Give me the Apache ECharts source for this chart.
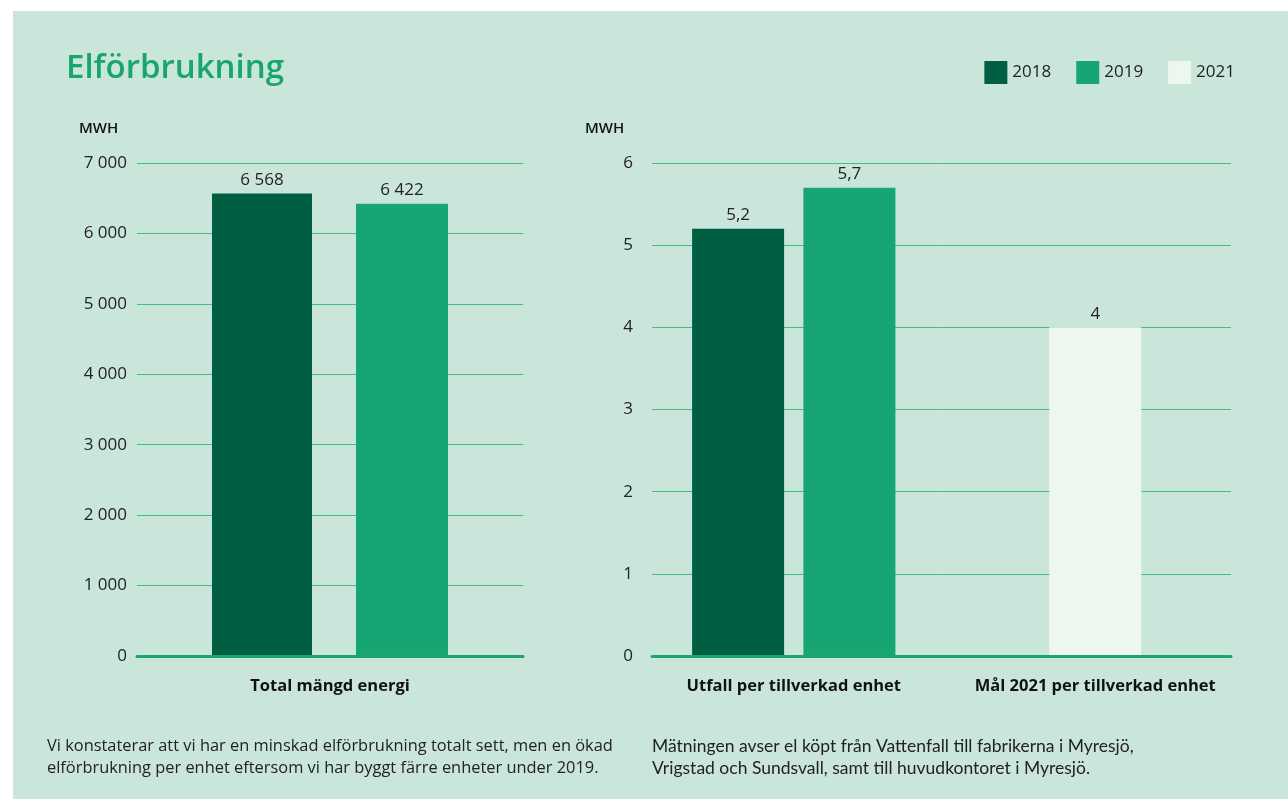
<!DOCTYPE html>
<html>
<head>
<meta charset="utf-8">
<script src="https://cdn.jsdelivr.net/npm/echarts@6/dist/echarts.min.js"></script>
<style>
  html, body { margin: 0; padding: 0; background: #ffffff; }
  #bg { position: absolute; left: 13px; top: 11px; width: 1275px; height: 788px; background: #cae6da; }
  #chart { position: absolute; left: 0; top: 0; width: 1288px; height: 799px; }
</style>
</head>
<body>
<div id="bg"></div>
<div id="chart"></div>
<script>
// data
var leftCategories = ['Total mängd energi'];
var rightCategories = ['Utfall per tillverkad enhet', 'Mål 2021 per tillverkad enhet'];
var total2018 = [6568];
var total2019 = [6422];
var unit2018 = [5.2, '-'];
var unit2019 = [5.7, '-'];
var unit2021 = ['-', 4];
var leftTicks = { min: 0, max: 7000, interval: 1000 };
var rightTicks = { min: 0, max: 6, interval: 1 };

var FONT = '"Open Sans", Lato, sans-serif';
var C2018 = '#005f43', C2019 = '#17a673', C2021 = '#edf7f0';
var gridLine = '#3fbd8b', zeroLine = '#1aa572', txt = '#222222';

function thousands(v) {
	return String(v).replace(/\B(?=(\d{3})+(?!\d))/g, ' ');
}
function decimal(v) {
	return String(v).replace('.', ',');
}

var chart = echarts.init(document.getElementById('chart'));

var valueLabel = function (fmt) {
	return {
		show : true,
		position : 'top',
		distance : 5,
		fontFamily : FONT,
		fontSize : 17,
		color : txt,
		formatter : function (p) { return fmt(p.value); }
	};
};

chart.setOption({
	textStyle : { fontFamily : FONT },
	animation : false,
	title : [ {
		text : 'Elförbrukning',
		left : 66, top : 52, padding : 0,
		textStyle : { fontFamily : FONT, fontSize : 33, fontWeight : 600, color : '#17a572' }
	}, {
		text : 'MWH',
		left : 79, top : 121, padding : 0,
		textStyle : { fontFamily : FONT, fontSize : 15, fontWeight : 600, color : '#111' }
	}, {
		text : 'MWH',
		left : 585, top : 121, padding : 0,
		textStyle : { fontFamily : FONT, fontSize : 15, fontWeight : 600, color : '#111' }
	}, {
		text : 'Vi konstaterar att vi har en minskad elförbrukning totalt sett, men en ökad\nelförbrukning per enhet eftersom vi har byggt färre enheter under 2019.',
		left : 47, top : 735, padding : 0,
		textStyle : { fontFamily : FONT, fontSize : 16.4, fontWeight : 'normal', color : txt, lineHeight : 22 }
	}, {
		text : 'Mätningen avser el köpt från Vattenfall till fabrikerna i Myresjö,\nVrigstad och Sundsvall, samt till huvudkontoret i Myresjö.',
		left : 652, top : 735, padding : 0,
		textStyle : { fontFamily : 'Lato, sans-serif', fontSize : 17.5, fontWeight : 'normal', color : txt, lineHeight : 22 }
	} ],
	legend : {
		right : 48, top : 56,
		itemWidth : 23, itemHeight : 23, itemGap : 25,
		icon : 'rect',
		data : [ '2018', '2019', '2021' ],
		textStyle : { fontFamily : FONT, fontSize : 17, color : txt }
	},
	grid : [
		{ left : 137, right : 765, top : 163, bottom : 143 },
		{ left : 652, right : 57, top : 163, bottom : 143 },
		{ left : 643, right : 42, top : 163, bottom : 143 }
	],
	xAxis : [ {
		gridIndex : 0, type : 'category', data : leftCategories, z : 5,
		axisLine : { lineStyle : { color : zeroLine, width : 3 } },
		axisTick : { show : false },
		axisLabel : { margin : 22, fontFamily : FONT, fontSize : 16.5, fontWeight : 'bold', color : '#111' }
	}, {
		gridIndex : 1, type : 'category', data : rightCategories, z : 5,
		axisLine : { lineStyle : { color : zeroLine, width : 3 } },
		axisTick : { show : false },
		axisLabel : { show : false }
	}, {
		gridIndex : 2, type : 'category', data : rightCategories,
		axisLine : { show : false },
		axisTick : { show : false },
		axisLabel : { interval : 0, hideOverlap : false, margin : 22, fontFamily : FONT, fontSize : 16.5, fontWeight : 'bold', color : '#111' }
	}, {
		gridIndex : 2, type : 'category', data : rightCategories, show : false
	} ],
	yAxis : [ {
		gridIndex : 0, type : 'value',
		min : leftTicks.min, max : leftTicks.max, interval : leftTicks.interval,
		axisLine : { show : false }, axisTick : { show : false },
		axisLabel : { margin : 10, fontFamily : FONT, fontSize : 17, color : txt, formatter : thousands },
		splitLine : { lineStyle : { color : gridLine, width : 1 } }
	}, {
		gridIndex : 1, type : 'value',
		min : rightTicks.min, max : rightTicks.max, interval : rightTicks.interval,
		axisLine : { show : false }, axisTick : { show : false },
		axisLabel : { margin : 19, fontFamily : FONT, fontSize : 17, color : txt, formatter : decimal },
		splitLine : { lineStyle : { color : gridLine, width : 1 } }
	}, {
		gridIndex : 2, type : 'value',
		min : rightTicks.min, max : rightTicks.max, show : false,
		splitLine : { show : false }
	} ],
	series : [ {
		name : '2018', type : 'bar', xAxisIndex : 0, yAxisIndex : 0,
		data : total2018, barWidth : 100, barGap : '44%',
		itemStyle : { color : C2018 }, label : valueLabel(thousands)
	}, {
		name : '2019', type : 'bar', xAxisIndex : 0, yAxisIndex : 0,
		data : total2019, barWidth : 92,
		itemStyle : { color : C2019 }, label : valueLabel(thousands)
	}, {
		name : '2018', type : 'bar', xAxisIndex : 2, yAxisIndex : 2,
		data : unit2018, barWidth : 92, barGap : '21%',
		itemStyle : { color : C2018 }, label : valueLabel(decimal)
	}, {
		name : '2019', type : 'bar', xAxisIndex : 2, yAxisIndex : 2,
		data : unit2019, barWidth : 92,
		itemStyle : { color : C2019 }, label : valueLabel(decimal)
	}, {
		name : '2021', type : 'bar', xAxisIndex : 3, yAxisIndex : 2,
		data : unit2021, barWidth : 92,
		itemStyle : { color : C2021 }, label : valueLabel(decimal)
	} ]
});
</script>
</body>
</html>
